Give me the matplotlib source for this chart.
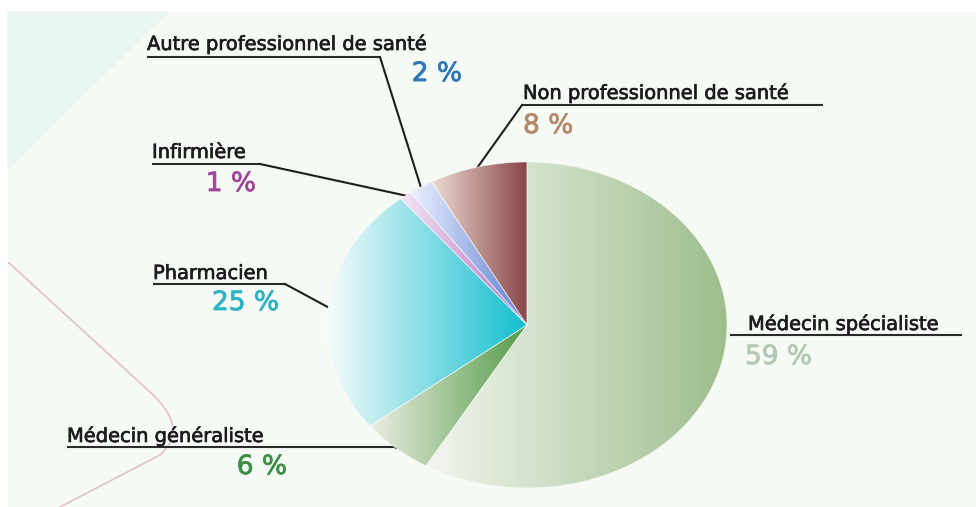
import matplotlib
matplotlib.use('Agg')
import matplotlib.pyplot as plt
import matplotlib.patheffects as pe
import numpy as np
from matplotlib.patches import Polygon, Rectangle, PathPatch
from matplotlib.path import Path
from matplotlib.colors import to_rgb

# data
labels = ['Médecin spécialiste', 'Médecin généraliste', 'Pharmacien',
          'Infirmière', 'Autre professionnel de santé', 'Non professionnel de santé']
values = [59, 6, 25, 1, 2, 8]
pct_text = ['59 %', '6 %', '25 %', '1 %', '2 %', '8 %']

# gradient colours (left -> right) and percentage colours
light = ['#f3f5ef', '#eceee2', '#f7fbfb', '#f4e6f4', '#eef2ff', '#eedcd4']
dark = ['#9dbe8d', '#559b4a', '#12bfcf', '#b06ac0', '#5b7fd0', '#874446']
pct_colors = ['#b3c9b3', '#3f8f47', '#2fb2c3', '#a1479b', '#2f78b4', '#b58a6c']

W, H = 976, 507
cx, cy, rx, ry = 527, 325, 200, 163

# label layout in pixels: name (x, baseline), underline (x0, x1, y), elbow side,
# pct (x, baseline, ha)
layout = [
    dict(name=(748, 330), ul=(730, 962, 335), elbow=None, pct=(745, 364, 'left')),
    dict(name=(67, 442), ul=(67, None, 447), elbow='right', pct=(287, 474, 'right')),
    dict(name=(153, 279), ul=(153, 285, 284), elbow='right', pct=(279, 310, 'right')),
    dict(name=(152, 158), ul=(152, 260, 164), elbow='right', pct=(256, 191, 'right')),
    dict(name=(147, 50), ul=(147, 380, 57), elbow='right', pct=(462, 81, 'right')),
    dict(name=(523, 99), ul=(522, 823, 105), elbow='left', pct=(523, 133, 'left')),
]

fig = plt.figure(figsize=(W / 100, H / 100), dpi=100)
bg = fig.add_axes([0, 0, 1, 1])
bg.set_xlim(0, W)
bg.set_ylim(H, 0)
bg.axis('off')

# background decoration
bg.add_patch(Rectangle((0, 0), W, H, color='white', zorder=0))
bg.add_patch(Rectangle((8, 12), W - 8, H - 12, color='#f5faf5', zorder=0))
bg.add_patch(Polygon([(8, 12), (168, 12), (8, 168)], closed=True,
                     color='#e9f5f2', zorder=0.5))
curve = Path([(8, 262), (150, 392), (190, 428), (160, 455), (60, 507)],
             [Path.MOVETO, Path.LINETO, Path.CURVE3, Path.CURVE3, Path.LINETO])
bg.add_patch(PathPatch(curve, fill=False, edgecolor='#e3bfcc', lw=1.2, zorder=0.6))

# pie on its own axes, stretched into an ellipse
pie_ax = fig.add_axes([(cx - rx) / W, (H - cy - ry) / H, 2 * rx / W, 2 * ry / H])
wedges, _ = pie_ax.pie(values, startangle=90, counterclock=False,
                       wedgeprops=dict(linewidth=0.6, edgecolor=(1, 1, 1, 0.5)))

t = np.linspace(0, 1, 256)[:, None]
for w, lc, dc in zip(wedges, light, dark):
    ext = w.get_path().get_extents()
    cols = (1 - t) * np.array(to_rgb(lc)) + t * np.array(to_rgb(dc))
    im = pie_ax.imshow(cols[None, :, :], extent=[ext.x0, ext.x1, ext.y0, ext.y1],
                       aspect='auto', interpolation='bilinear', zorder=1)
    im.set_clip_path(w)
    w.set_facecolor('none')
    w.set_zorder(2)

pie_ax.set_aspect('auto')
pie_ax.set_xlim(-1, 1)
pie_ax.set_ylim(-1, 1)
pie_ax.axis('off')

# labels, underlines and leader lines
to_bg = bg.transData.inverted()
for w, lab, pct, pc, lay in zip(wedges, labels, pct_text, pct_colors, layout):
    th = np.deg2rad((w.theta1 + w.theta2) / 2)
    tip = to_bg.transform(pie_ax.transData.transform((np.cos(th), np.sin(th))))
    x0, x1, y = lay['ul']
    if x1 is None:
        x1 = tip[0]
    bg.plot([x0, x1], [y, y], color='#2a2a2a', lw=1.5, solid_capstyle='butt', zorder=3)
    if lay['elbow'] == 'right':
        bg.plot([x1, tip[0]], [y, tip[1]], color='#1e1e1e', lw=1.5, zorder=3)
    elif lay['elbow'] == 'left':
        bg.plot([x0, tip[0]], [y, tip[1]], color='#1e1e1e', lw=1.5, zorder=3)
    bg.text(lay['name'][0], lay['name'][1], lab, fontsize=14, family='DejaVu Sans',
            color='#1c1c1c', va='baseline', ha='left', zorder=4,
            path_effects=[pe.withStroke(linewidth=0.5, foreground='#1c1c1c')])
    px, py, ha = lay['pct']
    bg.text(px, py, pct, fontsize=19, family='DejaVu Sans', color=pc,
            va='baseline', ha=ha, zorder=4,
            path_effects=[pe.withStroke(linewidth=0.6, foreground=pc)])

fig.savefig('out.png', dpi=100)
